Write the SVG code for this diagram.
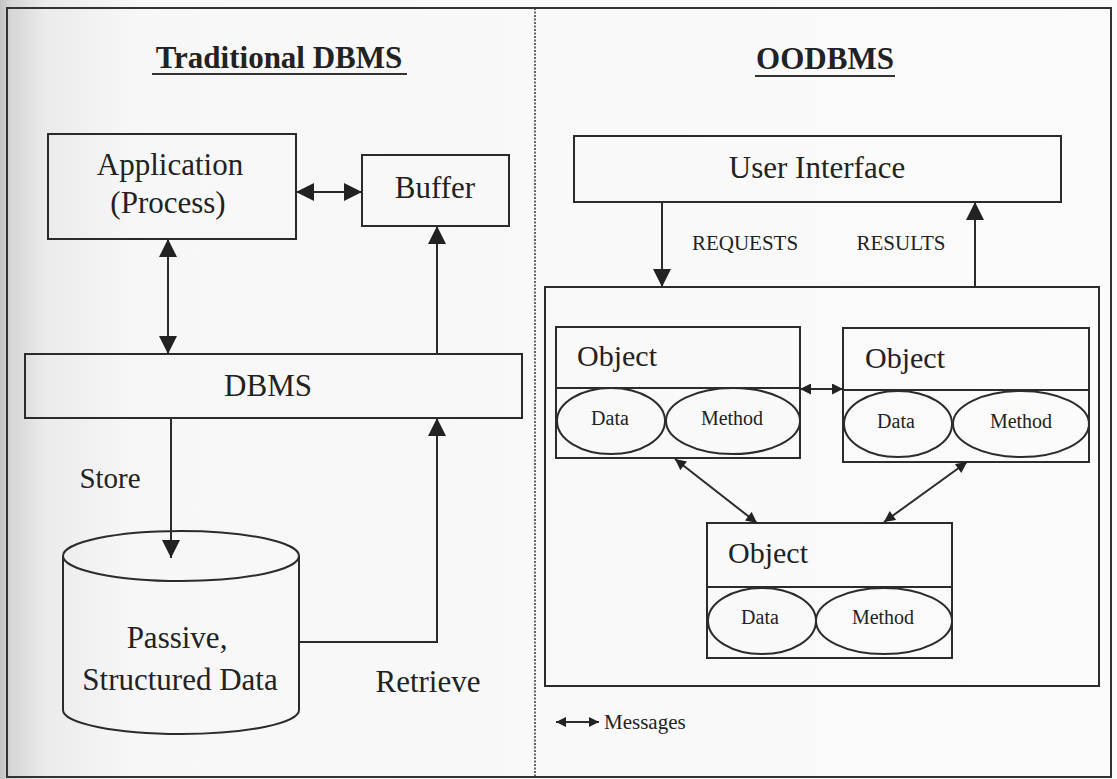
<svg xmlns="http://www.w3.org/2000/svg" width="1117" height="779" viewBox="0 0 1117 779">
  <defs>
    <linearGradient id="paper" x1="0" y1="0" x2="1" y2="0">
      <stop offset="0" stop-color="#c4c4c4"/>
      <stop offset="0.01" stop-color="#d6d6d6"/>
      <stop offset="0.04" stop-color="#ebebeb"/>
      <stop offset="0.12" stop-color="#f7f7f7"/>
      <stop offset="1" stop-color="#fbfbfb"/>
    </linearGradient>
    <marker id="ah" viewBox="0 0 10 10" refX="10" refY="5" markerUnits="userSpaceOnUse" markerWidth="18" markerHeight="18" orient="auto-start-reverse">
      <path d="M0,0 L10,5 L0,10 z" fill="#222"/>
    </marker>
    <marker id="ahs" viewBox="0 0 10 10" refX="10" refY="5" markerUnits="userSpaceOnUse" markerWidth="13" markerHeight="11" orient="auto-start-reverse">
      <path d="M0,0 L10,5 L0,10 z" fill="#222"/>
    </marker>
    <marker id="aht" viewBox="0 0 10 10" refX="10" refY="5" markerUnits="userSpaceOnUse" markerWidth="11" markerHeight="10" orient="auto-start-reverse">
      <path d="M0,0 L10,5 L0,10 z" fill="#222"/>
    </marker>
  </defs>
  <style>
    .box { fill: none; stroke: #2b2b2b; stroke-width: 2; }
    .ln { fill: none; stroke: #2b2b2b; stroke-width: 2; }
    .dbl { marker-start: url(#ah); marker-end: url(#ah); }
    .one { marker-end: url(#ah); }
    .dbls { marker-start: url(#ahs); marker-end: url(#ahs); }
    .t { font-family: "Liberation Serif", "Times New Roman", serif; fill: #222; }
    .big { font-size: 31px; text-anchor: middle; }
    .title { font-size: 31px; font-weight: bold; text-anchor: middle; }
    .obj { font-size: 30px; }
    .small { font-size: 20px; text-anchor: middle; }
    .lbl { font-size: 21px; text-anchor: middle; }
  </style>

  <!-- page -->
  <rect x="0" y="0" width="1117" height="779" fill="url(#paper)"/>
  <rect x="7" y="8" width="1104" height="769" fill="none" stroke="#333" stroke-width="2"/>
  <line x1="535" y1="8" x2="535" y2="777" stroke="#333" stroke-width="1.5" stroke-dasharray="2 1.5"/>

  <!-- headings -->
  <g id="heading-traditional">
    <text class="t title" x="279" y="68">Traditional DBMS</text>
    <line x1="152" y1="74" x2="407" y2="74" stroke="#333" stroke-width="2"/>
  </g>
  <g id="heading-oodbms">
    <text class="t title" x="825" y="69">OODBMS</text>
    <line x1="755" y1="76" x2="895" y2="76" stroke="#333" stroke-width="2"/>
  </g>

  <!-- traditional side -->
  <g id="application">
    <rect class="box" x="48" y="134" width="248" height="105"/>
    <text class="t big" x="170" y="175">Application</text>
    <text class="t big" x="168" y="213">(Process)</text>
  </g>
  <g id="buffer">
    <rect class="box" x="362" y="155" width="147" height="71"/>
    <text class="t big" x="435" y="198">Buffer</text>
  </g>
  <g id="dbms">
    <rect class="box" x="25" y="354" width="497" height="64"/>
    <text class="t big" x="268" y="396">DBMS</text>
  </g>
  <g id="data-store">
    <path class="box" d="M63,556 L63,710 A118,24 0 0 0 299,710 L299,556"/>
    <ellipse class="box" cx="181" cy="556" rx="118" ry="25"/>
    <text class="t big" x="177" y="648">Passive,</text>
    <text class="t big" x="180" y="690">Structured Data</text>
  </g>
  <g id="labels-traditional">
    <text class="t big" x="110" y="488" style="font-size:29px">Store</text>
    <text class="t big" x="428" y="692">Retrieve</text>
  </g>

  <!-- object-oriented side -->
  <g id="user-interface">
    <rect class="box" x="574" y="136" width="487" height="66"/>
    <text class="t big" x="817" y="178">User Interface</text>
  </g>
  <g id="object-space">
    <rect class="box" x="545" y="287" width="554" height="399"/>
  </g>
  <g id="object-1">
    <rect class="box" x="556" y="327" width="244" height="131"/>
    <line class="ln" x1="556" y1="388" x2="800" y2="388"/>
    <text class="t obj" x="577" y="366">Object</text>
    <ellipse class="box" cx="611" cy="421" rx="54" ry="33"/>
    <ellipse class="box" cx="733" cy="421" rx="67" ry="33"/>
    <text class="t small" x="610" y="425">Data</text>
    <text class="t small" x="732" y="425">Method</text>
  </g>
  <g id="object-2">
    <rect class="box" x="843" y="328" width="246" height="134"/>
    <line class="ln" x1="843" y1="390" x2="1089" y2="390"/>
    <text class="t obj" x="865" y="368">Object</text>
    <ellipse class="box" cx="898" cy="424" rx="54" ry="33"/>
    <ellipse class="box" cx="1021" cy="424" rx="68" ry="33"/>
    <text class="t small" x="896" y="428">Data</text>
    <text class="t small" x="1021" y="428">Method</text>
  </g>
  <g id="object-3">
    <rect class="box" x="707" y="523" width="245" height="135"/>
    <line class="ln" x1="707" y1="587" x2="952" y2="587"/>
    <text class="t obj" x="728" y="563">Object</text>
    <ellipse class="box" cx="762" cy="621" rx="54" ry="33"/>
    <ellipse class="box" cx="884" cy="621" rx="68" ry="33"/>
    <text class="t small" x="760" y="624">Data</text>
    <text class="t small" x="883" y="624">Method</text>
  </g>
  <g id="labels-oodbms">
    <text class="t lbl" x="745" y="250">REQUESTS</text>
    <text class="t lbl" x="901" y="250">RESULTS</text>
  </g>
  <g id="legend">
    <line class="ln" x1="556" y1="722" x2="599" y2="722" marker-start="url(#aht)" marker-end="url(#aht)"/>
    <text class="t" x="604" y="729" style="font-size:21px">Messages</text>
  </g>

  <!-- connectors -->
  <g id="connectors">
    <line class="ln dbl" x1="296" y1="192" x2="362" y2="192"/>
    <line class="ln dbl" x1="168" y1="239" x2="168" y2="354"/>
    <line class="ln one" x1="437" y1="354" x2="437" y2="226"/>
    <line class="ln one" x1="171" y1="418" x2="171" y2="558"/>
    <polyline class="ln one" points="299,642 437,642 437,418"/>
    <line class="ln one" x1="662" y1="202" x2="662" y2="287"/>
    <line class="ln one" x1="975" y1="287" x2="975" y2="202"/>
    <line class="ln dbls" x1="800" y1="389" x2="843" y2="389"/>
    <line class="ln dbls" x1="675" y1="459" x2="757" y2="523"/>
    <line class="ln dbls" x1="967" y1="462" x2="884" y2="522"/>
  </g>
</svg>
